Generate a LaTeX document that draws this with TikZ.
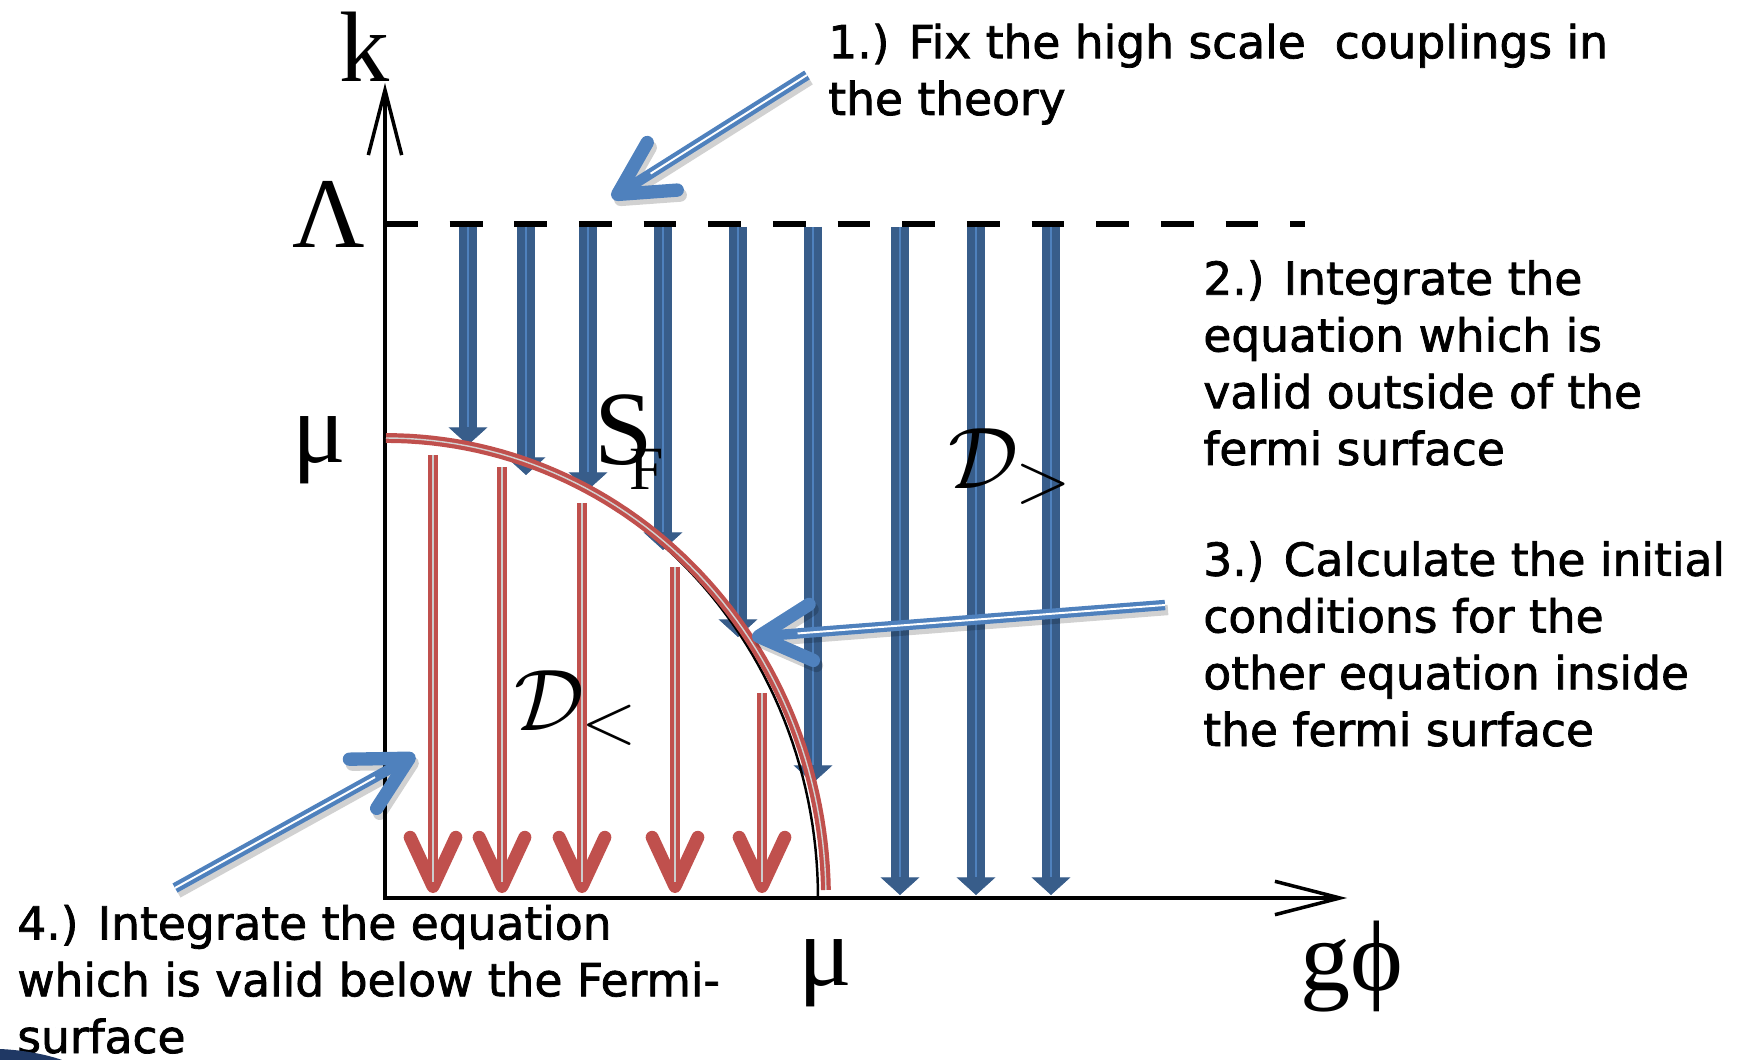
\documentclass[tikz,border=0pt]{standalone}
\usepackage{fontspec}
\setmainfont{DejaVu Sans}[FakeBold=1.6]
\newfontfamily\labfont{Liberation Serif}
\usetikzlibrary{arrows.meta}

\definecolor{flowblue}{RGB}{56,93,138}
\definecolor{pointblue}{RGB}{79,129,189}
\definecolor{fermired}{RGB}{192,80,77}
\definecolor{swooshblue}{RGB}{31,56,100}

\begin{document}
\begin{tikzpicture}[x=0.02cm, y=-0.02cm,
    axisline/.style={black, line width=2.8pt, line join=miter, >={Straight Barb[length=37pt, width=19pt, line width=2pt]}, <->},
    levelline/.style={black, line width=3.4pt, dash pattern=on 18.7pt off 18.1pt},
    flowdown/.style={draw=flowblue, line width=10.2pt, -{Triangle[width=22pt, length=10pt, line width=0.4pt]}},
    flowcore/.style={draw=pointblue, line width=1pt},
    fermiline/.style={draw=fermired, line width=2.4pt, double=gray!35, double distance=0.8pt},
    backflow/.style={draw=fermired, line width=6pt, -{Straight Barb[length=28pt, width=26pt, line width=7.4pt, round]}},
    backcore/.style={draw=gray!40, line width=1pt},
    pointer/.style={draw=pointblue, line width=5.9pt, -{Straight Barb[length=30pt, width=32pt, line width=7.6pt, round]}},
    pointercore/.style={draw=white, line width=1.1pt, shorten >=26pt},
    pointershadow/.style={pointer, draw=black, opacity=0.18, transform canvas={shift={(3,5)}}},
    steptext/.style={anchor=base west, align=left, inner sep=0pt, font=\fontsize{25.9}{32.3}\selectfont},
    symlabel/.style={anchor=base, inner sep=0pt, font=\labfont\fontsize{57}{57}\selectfont}
  ]
  \useasboundingbox (0,0) rectangle (1742,1060);

  % axes and cut-off scale
  \coordinate (O) at (385,898);
  \coordinate (ktop) at (385,83);
  \coordinate (gend) at (1347,898);
  \coordinate (lamL) at (385,224);
  \coordinate (lamR) at (1305,224);
  \draw[levelline] (lamL) -- (lamR);
  \draw[axisline] (ktop) -- (O) -- (gend);

  % flow from the cut-off down
  \foreach \x/\y [count=\i] in {468/445, 526/475, 588/490, 663/550, 738/637, 813/783, 900/895, 976/895, 1051/895} {
    \coordinate (ftop\i) at (\x,227);
    \coordinate (fend\i) at (\x,\y);
    \draw[flowdown] (ftop\i) -- (fend\i);
    \draw[flowcore] (ftop\i) -- ([yshift=10pt]fend\i);
  }

  % fermi surface
  \draw[black, line width=1.4pt] plot[domain=0:90, samples=60] ({385+433*cos(\x)}, {898-460*sin(\x)});
  \draw[fermiline] plot[domain=1:90, samples=60] ({386+440*cos(\x)}, {898-460*sin(\x)});

  % flow inside the fermi surface
  \foreach \x/\y [count=\i] in {433/455, 502/467, 582/503, 675/567, 762/693} {
    \coordinate (btop\i) at (\x,\y);
    \coordinate (bend\i) at (\x,893);
    \draw[backflow] (btop\i) -- (bend\i);
    \draw[backcore] (btop\i) -- ([yshift=6pt]bend\i);
  }

  % symbols
  \node[symlabel] (klab) at (365,82) {k};
  \node[symlabel] (lamlab) at (329,248) {Λ};
  \node[symlabel] (mulab) at (319,463) {μ};
  \node[symlabel] (mubot) at (825,985) {μ};
  \node[symlabel] (gphi) at (1352,990) {gϕ};
  \node[symlabel, anchor=base west, font=\labfont\fontsize{60}{60}\selectfont] (sfS) at (594,465) {S};
  \node[symlabel, anchor=base west, font=\labfont\fontsize{35}{35}\selectfont] (sfF) at (629,490) {F};
  \node[anchor=base west, inner sep=0pt] (dless) at (514,730) {\scalebox{2}{\fontsize{24.88}{25}\selectfont$\mathcal{D}_{<}$}};
  \node[anchor=base west, inner sep=0pt] (dmore) at (948,489) {\scalebox{2}{\fontsize{24.88}{25}\selectfont$\mathcal{D}_{>}$}};

  % pointers
  \coordinate (tail1) at (807,75);
  \coordinate (tip1) at (612,198);
  \coordinate (tail3) at (1165,605);
  \coordinate (tip3) at (752,637);
  \coordinate (tail4) at (175,888);
  \coordinate (tip4) at (415,755);
  \foreach \p in {1,3,4} {
    \draw[pointershadow] (tail\p) -- (tip\p);
    \draw[pointer] (tail\p) -- (tip\p);
    \draw[pointercore] (tail\p) -- (tip\p);
  }

  % steps (anchored at the last line)
  \node[steptext] (step1) at (828,115) {1.) Fix the high scale\ \ couplings in\\the theory};
  \node[steptext] (step2) at (1203,465) {2.) Integrate the\\equation which is\\valid outside of the\\fermi surface};
  \node[steptext] (step3) at (1203,746) {3.) Calculate the initial\\conditions for the\\other equation inside\\the fermi surface};
  \node[steptext] (step4) at (17,1053) {4.) Integrate the equation\\which is valid below the Fermi-\\surface};

  \fill[swooshblue] (0,1049) .. controls (22,1050) and (45,1054) .. (62,1060) -- (0,1060) -- cycle;
\end{tikzpicture}
\end{document}
